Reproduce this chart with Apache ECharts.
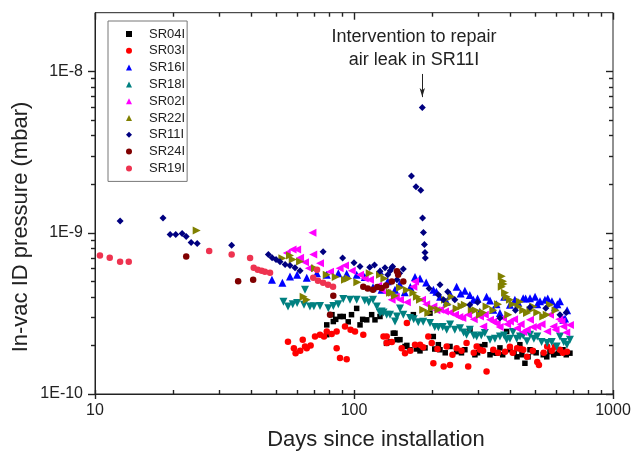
<!DOCTYPE html>
<html><head><meta charset="utf-8">
<script src="https://cdn.jsdelivr.net/npm/echarts@6/dist/echarts.min.js"></script>
<style>html,body{margin:0;padding:0;background:#fff}#c{width:632px;height:451px}</style>
</head><body><div id="c"></div>
<script>
// ---- data: [days since installation, pressure (mbar)] ----
const SR04I = [[78.5,2.68e-10],[78.5,2.33e-10],[82.2,3.10e-10],[83.2,2.81e-10],[85,2.9e-10],[88.3,3.02e-10],[90.9,3.02e-10],[95,2.8e-10],[97.8,3.10e-10],[102.4,3.39e-10],[105.5,2.68e-10],[108,2.9e-10],[112,2.88e-10],[117,3.10e-10],[120.5,2.88e-10],[126,3.02e-10],[133.5,2.06e-10],[138,2.1e-10],[141.8,2.38e-10],[146.5,2.17e-10],[144,2.38e-10],[150.5,2.17e-10],[157.4,1.97e-10],[160,2.0e-10],[164.5,1.88e-10],[169.5,3.10e-10],[174,1.9e-10],[179.8,1.85e-10],[188,1.93e-10],[196.5,3.17e-10],[202.4,2.27e-10],[205,1.9e-10],[211.7,2.02e-10],[214.8,1.88e-10],[225,1.8e-10],[234.8,1.97e-10],[249,1.83e-10],[260,1.8e-10],[268,1.88e-10],[280.5,2.50e-10],[293,1.75e-10],[300,1.8e-10],[306.6,1.97e-10],[320,2.02e-10],[335,1.75e-10],[345,1.8e-10],[355.6,1.79e-10],[366,1.93e-10],[375,1.75e-10],[388.6,2.44e-10],[400,1.88e-10],[415,1.8e-10],[426,1.70e-10],[437,2.02e-10],[445,1.75e-10],[457,1.55e-10],[470,1.7e-10],[478,1.88e-10],[492,1.83e-10],[505,1.8e-10],[538,1.75e-10],[555,1.7e-10],[571,1.83e-10],[590,1.75e-10],[614,1.79e-10],[641,1.88e-10],[660,1.75e-10],[682,1.79e-10]];
const SR03I = [[55.6,2.11e-10],[58.6,1.92e-10],[59.5,1.79e-10],[62,1.85e-10],[63.4,2.17e-10],[64.7,1.97e-10],[65.7,1.92e-10],[68,2.0e-10],[70.7,2.27e-10],[73.9,2.33e-10],[76.6,2.27e-10],[78.5,2.44e-10],[82,2.35e-10],[85.7,2.44e-10],[85.7,1.92e-10],[88.3,1.67e-10],[93.7,1.64e-10],[92.3,2.62e-10],[97,2.5e-10],[100.9,2.44e-10],[108.6,2.33e-10],[130,2.27e-10],[133.7,2.27e-10],[133.7,2.07e-10],[140,2.1e-10],[152.8,1.92e-10],[157.4,1.79e-10],[160,2.75e-10],[165,1.85e-10],[172,2.02e-10],[180,2.02e-10],[185,1.95e-10],[193.6,2.27e-10],[199.6,2.07e-10],[202.5,1.55e-10],[210,1.9e-10],[222,1.48e-10],[234.8,1.51e-10],[228,1.97e-10],[240,1.75e-10],[249,1.92e-10],[260,1.85e-10],[272,2.07e-10],[276,1.48e-10],[290,1.8e-10],[297.6,1.97e-10],[306.6,1.88e-10],[315,1.85e-10],[325,1.38e-10],[345,1.88e-10],[360,1.8e-10],[383,1.83e-10],[400,1.96e-10],[410,1.8e-10],[426,1.92e-10],[440,1.9e-10],[450.5,1.88e-10],[465.6,1.70e-10],[490,1.85e-10],[510,1.58e-10],[517.6,1.51e-10],[540,1.8e-10],[557,1.97e-10],[580,1.85e-10],[597,1.96e-10],[624,1.88e-10],[640,1.8e-10],[664,1.83e-10]];
const SR16I = [[48.2,5.11e-10],[52.9,4.89e-10],[56.6,5.34e-10],[60.3,5.48e-10],[65.7,5.25e-10],[71.9,5.60e-10],[78.5,5.48e-10],[87,5.60e-10],[93.7,5.56e-10],[102.4,5.48e-10],[110,5.3e-10],[118.4,4.59e-10],[126,5.76e-10],[127.8,4.43e-10],[135,5.0e-10],[144,4.43e-10],[150,4.8e-10],[157,4.27e-10],[165,4.6e-10],[172,5.30e-10],[179.8,5.20e-10],[190,4.9e-10],[202.5,4.43e-10],[208,4.3e-10],[215,4.0e-10],[228,3.73e-10],[236,4.1e-10],[249,4.62e-10],[258,4.2e-10],[268,4.36e-10],[280,4.1e-10],[289,3.84e-10],[300,3.9e-10],[306,3.23e-10],[325,4.00e-10],[335,3.8e-10],[345,3.33e-10],[355,3.6e-10],[366,3.17e-10],[380,4.0e-10],[400,3.57e-10],[418,3.84e-10],[430,3.7e-10],[450,3.92e-10],[460,3.9e-10],[478,3.92e-10],[500,4.0e-10],[510,3.6e-10],[522.6,3.75e-10],[546,3.84e-10],[560,3.9e-10],[581,3.75e-10],[597,3.45e-10],[610,3.6e-10],[624,3.75e-10],[643,2.88e-10],[653,2.94e-10],[665,3.3e-10]];
const SR18I = [[53.4,3.73e-10],[55.6,3.48e-10],[58,3.6e-10],[60.3,3.66e-10],[64.1,3.57e-10],[64.7,4.43e-10],[67.6,3.48e-10],[70,3.5e-10],[73.9,3.51e-10],[79.6,3.40e-10],[83.2,3.51e-10],[87,3.6e-10],[90.9,3.88e-10],[96.5,3.84e-10],[102.4,3.84e-10],[110,3.8e-10],[114,3.7e-10],[118.4,3.84e-10],[122.5,3.48e-10],[126,3.17e-10],[127.8,3.24e-10],[130,3.2e-10],[133.7,3.10e-10],[137.7,3.10e-10],[144,2.81e-10],[146.5,3.02e-10],[150.5,3.39e-10],[155,3.1e-10],[164.5,2.96e-10],[170,2.9e-10],[177,2.78e-10],[185,2.8e-10],[196.5,2.75e-10],[205,2.6e-10],[211.7,2.59e-10],[220,2.6e-10],[228,2.50e-10],[235,2.69e-10],[245,2.5e-10],[256.6,2.55e-10],[265,2.4e-10],[272,2.33e-10],[280,2.50e-10],[290,2.3e-10],[297.6,2.27e-10],[310,2.3e-10],[320,2.39e-10],[335,2.17e-10],[350,2.2e-10],[366,2.27e-10],[380,2.3e-10],[388.6,2.17e-10],[400,2.2e-10],[411,2.42e-10],[425,2.2e-10],[437.5,2.27e-10],[450,2.3e-10],[465.6,2.12e-10],[478,2.33e-10],[495,2.2e-10],[510,2.27e-10],[530,2.1e-10],[557,2.07e-10],[580,2.1e-10],[606,1.97e-10],[624,2.27e-10],[645,2.1e-10],[664,2.02e-10],[682,2.17e-10]];
const SR02I = [[55,7.48e-10],[57.9,7.84e-10],[60.3,7.84e-10],[61.9,6.99e-10],[64.7,6.54e-10],[66.9,6.0e-10],[69.1,9.96e-10],[69.6,7.30e-10],[73.9,6.45e-10],[80.8,5.72e-10],[88,6.0e-10],[92.3,6.24e-10],[98,5.8e-10],[105.5,5.48e-10],[110,5.2e-10],[115.3,5.11e-10],[124,4.69e-10],[127.8,4.43e-10],[133.7,4.24e-10],[139.7,3.84e-10],[145,4.0e-10],[150.5,3.84e-10],[160,3.7e-10],[169.5,4.62e-10],[172,4.97e-10],[183,3.84e-10],[190,3.6e-10],[202.5,3.48e-10],[208,3.3e-10],[215,3.33e-10],[224.6,3.24e-10],[235,3.2e-10],[245.5,3.10e-10],[255,3.0e-10],[262,2.96e-10],[276,3.10e-10],[290,2.9e-10],[306.6,3.02e-10],[315.5,2.62e-10],[320,3.1e-10],[335,2.88e-10],[345,2.8e-10],[355.6,2.73e-10],[365,2.6e-10],[376,2.96e-10],[390,2.7e-10],[400,2.81e-10],[415,2.9e-10],[426,2.55e-10],[440,2.7e-10],[450.5,2.42e-10],[465,2.5e-10],[478,2.88e-10],[490,2.6e-10],[510,2.62e-10],[530,2.7e-10],[557,2.44e-10],[571,3.10e-10],[589,2.62e-10],[600,2.5e-10],[620,2.9e-10],[633,2.81e-10],[643,2.62e-10],[660,2.4e-10],[682,2.68e-10]];
const SR22I = [[24.7,1.03e-9],[52.9,6.94e-10],[56.6,7.2e-10],[58,6.8e-10],[61.9,6.62e-10],[63.9,4.00e-10],[65.7,3.84e-10],[70.7,6.0e-10],[78.5,5.48e-10],[85,5.3e-10],[92.3,5.11e-10],[95,5.2e-10],[103,4.92e-10],[115,5.6e-10],[126,5.48e-10],[131,5.2e-10],[137.7,4.24e-10],[140,4.24e-10],[144,4.06e-10],[150.5,4.55e-10],[160,4.4e-10],[169.5,4.24e-10],[175,4.0e-10],[179.8,3.84e-10],[185,3.33e-10],[193.6,3.17e-10],[200,3.4e-10],[211.7,3.33e-10],[224.6,3.84e-10],[230,3.6e-10],[238,4.00e-10],[249,3.39e-10],[260,3.5e-10],[268,3.57e-10],[285,3.33e-10],[295,3.3e-10],[306.6,3.10e-10],[315,3.2e-10],[325,3.48e-10],[345,3.3e-10],[360,3.6e-10],[372,5.36e-10],[376,5.0e-10],[372,4.62e-10],[378,4.8e-10],[383,4.24e-10],[388,4.0e-10],[394,3.10e-10],[400,3.84e-10],[410,3.6e-10],[432,3.48e-10],[437,3.73e-10],[450,3.3e-10],[465.6,3.17e-10],[480,3.3e-10],[492,3.48e-10],[510,3.2e-10],[538,3.02e-10],[555,3.1e-10],[571,3.57e-10],[600,3.3e-10]];
const SR11I = [[12.5,1.18e-9],[18.3,1.23e-9],[19.5,9.72e-10],[20.5,9.72e-10],[21.7,9.86e-10],[22.5,9.44e-10],[23.5,8.67e-10],[24.8,8.54e-10],[33.7,8.33e-10],[46.7,7.30e-10],[48.3,6.99e-10],[50,6.80e-10],[51.8,6.60e-10],[54.2,6.33e-10],[56.6,6.24e-10],[59.2,6.06e-10],[61.9,5.80e-10],[76,7.60e-10],[90.4,6.95e-10],[100,6.5e-10],[105.5,6.17e-10],[115,6.1e-10],[120,6.3e-10],[126,5.76e-10],[131.7,6.06e-10],[135,5.48e-10],[138,5.8e-10],[140,6.06e-10],[141,6.17e-10],[146.5,5.11e-10],[150,5.6e-10],[155,5.95e-10],[166.6,2.24e-9],[173.5,1.92e-9],[181,1.83e-9],[183.5,5.95e-9],[184,1.23e-9],[185.4,1.0e-9],[187,8.42e-10],[188,7.52e-10],[188.5,6.95e-10],[195,4.5e-10],[211.7,4.12e-10],[214.8,4.75e-10],[221.5,3.84e-10],[230,4.3e-10],[245,3.84e-10],[280,3.57e-10],[300,3.7e-10],[366,2.96e-10],[420,3.3e-10],[478,3.45e-10],[550,3.4e-10],[624,3.10e-10],[660,3.2e-10]];
const SR24I = [[22.5,7.1e-10],[35.7,5.0e-10],[40.8,5.11e-10],[80.8,3.10e-10],[83.2,4.06e-10],[108.6,4.62e-10],[113,4.5e-10],[118.4,4.43e-10],[123,4.6e-10],[127.8,4.53e-10],[133,4.7e-10],[140,4.97e-10],[146.5,5.76e-10],[148,5.48e-10],[155,4.97e-10]];
const SR19I = [[10.45,7.2e-10],[11.4,6.99e-10],[12.5,6.6e-10],[13.5,6.6e-10],[27.6,7.7e-10],[33.7,7.3e-10],[39.7,6.95e-10],[41,6.06e-10],[42.5,5.89e-10],[44,5.80e-10],[45.3,5.72e-10],[47.4,5.64e-10],[69.6,5.25e-10],[72,5.89e-10],[72.6,5.03e-10],[76,4.89e-10],[79.4,4.75e-10],[83,4.62e-10]];

const seriesNames = ['SR04I','SR03I','SR16I','SR18I','SR02I','SR22I','SR11I','SR24I','SR19I'];
const seriesData  = [SR04I, SR03I, SR16I, SR18I, SR02I, SR22I, SR11I, SR24I, SR19I];

const xMajorTicks = [10, 100, 1000];
const xMinorTicks = [20,30,40,50,60,70,80,90,200,300,400,500,600,700,800,900];
const yMajorTicks = [1e-10, 1e-9, 1e-8];
const yMinorTicks = [2e-10,3e-10,4e-10,5e-10,6e-10,7e-10,8e-10,9e-10,2e-9,3e-9,4e-9,5e-9,6e-9,7e-9,8e-9,9e-9];
const xRange = [10, 1000];
const yRange = [1e-10, 2.3e-8];

const arrowFrom = [183.5, 9.6e-9];
const arrowTo   = [183.5, 6.9e-9];
const annotationLines = ['Intervention to repair', 'air leak in SR11I'];

// ---- styles ----
const FONT = 'Liberation Sans, Arial, sans-serif';
const INK = '#222';
const styles = {
  SR04I: {symbol:'rect', size:5.5, rot:0, color:'#000000'},
  SR03I: {symbol:'circle', size:6.5, rot:0, color:'#ff0000'},
  SR16I: {symbol:'triangle', size:8, rot:0, color:'#0000ff'},
  SR18I: {symbol:'triangle', size:8, rot:180, color:'#008080'},
  SR02I: {symbol:'triangle', size:8, rot:90, color:'#ff00ff'},
  SR22I: {symbol:'triangle', size:8, rot:-90, color:'#808000'},
  SR11I: {symbol:'diamond', size:7, rot:0, color:'#000080'},
  SR24I: {symbol:'circle', size:6.5, rot:0, color:'#800000'},
  SR19I: {symbol:'circle', size:6.5, rot:0, color:'#ee3350'}
};

const series = seriesNames.map((n, i) => {
  const s = styles[n];
  const o = {
    name:n, type:'scatter', data:seriesData[i],
    symbol:s.symbol, symbolSize:s.size, symbolRotate:s.rot, symbolKeepAspect:true,
    itemStyle:{color:s.color, opacity:1}, silent:true, z:2 + i
  };
  if (n === 'SR11I') {
    o.markLine = {
      silent:true, symbol:['none','arrow'], symbolSize:[4, 9],
      label:{show:false}, lineStyle:{color:INK, width:1, type:'solid'},
      itemStyle:{color:INK},
      data:[[{coord:arrowFrom}, {coord:arrowTo}]]
    };
  }
  return o;
});

const chart = echarts.init(document.getElementById('c'), null, {renderer:'canvas'});
chart.setOption({
  animation:false,
  backgroundColor:'#fff',
  grid:{left:95, right:19, top:12.7, bottom:57, containLabel:false, outerBoundsMode:'none',
        show:true, borderColor:INK, borderWidth:1, backgroundColor:'transparent'},
  xAxis:{
    type:'log', logBase:10, min:xRange[0], max:xRange[1], position:'bottom',
    splitLine:{show:false}, axisTick:{show:false},
    axisLine:{show:true, onZero:false, lineStyle:{color:INK, width:1}},
    axisLabel:{customValues:xMajorTicks, margin:9, fontSize:16, fontFamily:FONT, color:INK,
      formatter: v => String(Math.round(v))},
    name:'Days since installation', nameLocation:'middle', nameGap:35,
    nameTextStyle:{fontSize:22, fontFamily:FONT, color:INK, padding:[0,0,0,44]}
  },
  yAxis:{
    type:'log', logBase:10, min:yRange[0], max:yRange[1], position:'left',
    splitLine:{show:false}, axisTick:{show:false},
    axisLine:{show:true, onZero:false, lineStyle:{color:INK, width:1}},
    axisLabel:{customValues:yMajorTicks, margin:12, fontSize:16, fontFamily:FONT, color:INK,
      formatter: v => '1E' + Math.round(Math.log10(v))}
  },
  legend:{
    orient:'vertical', left:108, top:21, padding:[6,2,6,18],
    itemWidth:6, itemHeight:6, itemGap:2.8,
    borderColor:'#777', borderWidth:1, borderRadius:0, backgroundColor:'#fff',
    textStyle:{fontSize:13, fontFamily:FONT, color:INK, lineHeight:14, padding:[0,0,0,12]},
    data:seriesNames, selectedMode:false
  },
  series:series
});

// ---- tick marks: positions come from the chart's own axis scales ----
function px(x, y) { return chart.convertToPixel({gridIndex:0}, [x, y]); }
function seg(x1, y1, x2, y2) {
  return {type:'line', silent:true, z:100, shape:{x1:x1, y1:y1, x2:x2, y2:y2}, style:{stroke:INK, lineWidth:1.4}};
}
const tickEls = [];
xMajorTicks.concat(xMinorTicks).forEach((v, i) => {
  const major = i < xMajorTicks.length;
  const pb = px(v, yRange[0]), pt = px(v, yRange[1]);
  const x = Math.round(pb[0]) + 0.5;
  tickEls.push(seg(x, major ? pb[1] + 5 : pb[1], x, pb[1] - 4));
  tickEls.push(seg(x, pt[1], x, pt[1] + (major ? 7 : 4)));
});
yMajorTicks.concat(yMinorTicks).forEach((v, i) => {
  const major = i < yMajorTicks.length;
  const pl = px(xRange[0], v), pr = px(xRange[1], v);
  const y = Math.round(pl[1]) + 0.5;
  tickEls.push(seg(pl[0] - (major ? 7 : 4), y, pl[0], y));
  tickEls.push(seg(pr[0] - (major ? 7 : 4), y, pr[0], y));
});

const textEls = [
  {type:'text', x:414, y:37.5, silent:true, style:{text:annotationLines[0], textAlign:'center', textVerticalAlign:'middle', font:'18px ' + FONT, fill:INK}},
  {type:'text', x:414, y:60, silent:true, style:{text:annotationLines[1], textAlign:'center', textVerticalAlign:'middle', font:'18px ' + FONT, fill:INK}},
  {type:'text', x:21, y:227, rotation:Math.PI/2, silent:true, style:{text:'In-vac ID pressure (mbar)', textAlign:'center', textVerticalAlign:'middle', font:'22px ' + FONT, fill:INK}}
];
chart.setOption({graphic: textEls.concat(tickEls)});
</script></body></html>
